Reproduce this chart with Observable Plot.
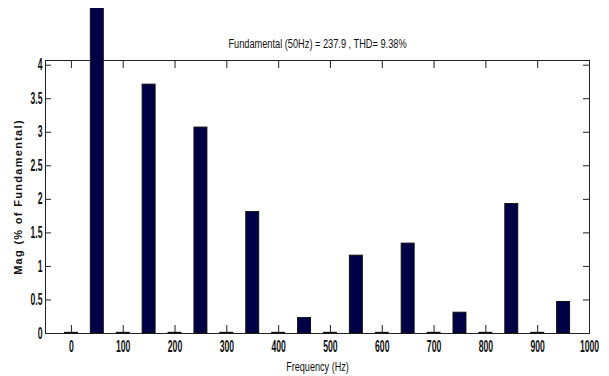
<!DOCTYPE html>
<html><head><meta charset="utf-8">
<script src="https://cdn.jsdelivr.net/npm/d3@7"></script>
<script src="https://cdn.jsdelivr.net/npm/@observablehq/plot@0.6"></script>
<style>
html,body{margin:0;padding:0;background:#fff;}
#chart{padding-top:8px;width:609px;}
</style></head><body><div id="chart"></div>
<script>
const frequencies = [0,50,100,150,200,250,300,350,400,450,500,550,600,650,700,750,800,850,900,950];
const magnitudes  = [0.01,100,0.01,3.71,0.01,3.07,0.01,1.81,0.01,0.23,0.01,1.16,0.01,1.34,0.01,0.31,0.01,1.93,0.01,0.47];
const xTicks = [0,100,200,300,400,500,600,700,800,900,1000];
const yTicks = [0,0.5,1,1.5,2,2.5,3,3.5,4];
const titleText = "Fundamental (50Hz) = 237.9 , THD= 9.38%";
const xLabel = "Frequency (Hz)";
const yLabel = "Mag (% of Fundamental)";

const data = frequencies.map((f, i) => ({f, m: magnitudes[i]}));
const W = 609, H = 368, mT = 52, mB = 43, mL = 45, mR = 20;
const fw = W - mL - mR, fh = H - mT - mB;
const halfBar = 12.5;

const svg = Plot.plot({
  width: W, height: H,
  marginTop: mT, marginBottom: mB, marginLeft: mL, marginRight: mR,
  style: {fontFamily: "'Liberation Sans', Arial, sans-serif", background: "#fff", color: "#111"},
  x: {domain: [-50, 1000], label: null},
  y: {domain: [0, 4.07], label: null},
  marks: [
    Plot.frame({stroke: "#222", strokeWidth: 1}),
    Plot.tickX(xTicks, {x: d => d, insetTop: fh - 8, stroke: "#222"}),
    Plot.tickX(xTicks, {x: d => d, insetBottom: fh - 8, stroke: "#222"}),
    Plot.tickY(yTicks, {y: d => d, insetRight: fw - 6, stroke: "#222"}),
    Plot.tickY(yTicks, {y: d => d, insetLeft: fw - 6, stroke: "#222"}),
    Plot.rectY(data, {x1: d => d.f - halfBar, x2: d => d.f + halfBar, y: "m", fill: "#000046", stroke: "#111", strokeWidth: 1}),
    Plot.axisX(xTicks, {anchor: "bottom", tickSize: 0, tickPadding: 7, tickFormat: d => String(d), label: null}),
    Plot.axisY(yTicks, {anchor: "left", tickSize: 0, tickPadding: 3, tickFormat: d => String(d), label: null}),
    Plot.text([titleText], {frameAnchor: "top", dy: -16, lineAnchor: "middle", fill: "#111"}),
    Plot.text([xLabel], {frameAnchor: "bottom", dy: 34, lineAnchor: "middle", fill: "#111"}),
    Plot.text([yLabel], {frameAnchor: "left", dx: -27, rotate: -90, textAnchor: "middle", lineAnchor: "middle", fill: "#111"})
  ]
});

function squeeze(t, s) {
  const tr = t.getAttribute("transform");
  if (tr) t.setAttribute("transform", tr + ` scale(${s},1)`);
  else {
    const x = t.getAttribute("x") || 0, y = t.getAttribute("y") || 0;
    t.setAttribute("transform", `translate(${x},${y}) scale(${s},1)`);
    t.setAttribute("x", 0); t.setAttribute("y", 0);
  }
}
svg.querySelectorAll('g[aria-label="x-axis tick label"] text, g[aria-label="y-axis tick label"] text').forEach(t => {
  t.style.fontSize = "16px"; t.style.fontWeight = "bold"; squeeze(t, 0.54);
});
svg.querySelectorAll("text").forEach(t => {
  const s = t.textContent;
  if (s === titleText) { t.style.fontSize = "12px"; squeeze(t, 0.77); }
  else if (s === xLabel) { t.style.fontSize = "12px"; squeeze(t, 0.76); }
  else if (s === yLabel) { t.style.fontSize = "11px"; t.style.fontWeight = "bold"; t.style.letterSpacing = "1.3px"; }
});
document.getElementById("chart").appendChild(svg);
</script></body></html>
